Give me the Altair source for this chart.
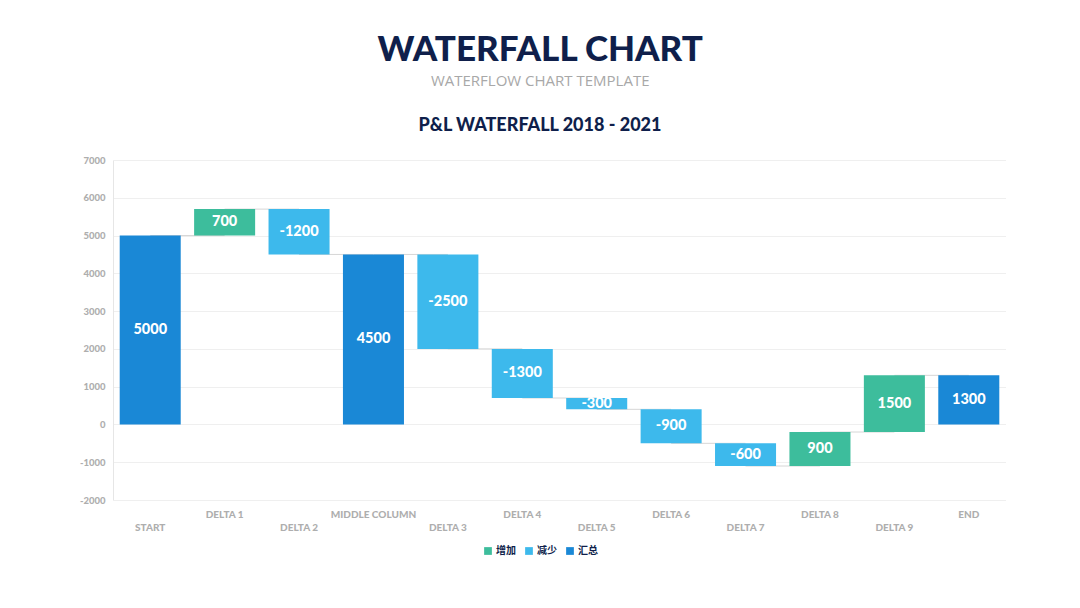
import altair as alt
import pandas as pd

categories = ["START", "DELTA 1", "DELTA 2", "MIDDLE COLUMN", "DELTA 3", "DELTA 4",
              "DELTA 5", "DELTA 6", "DELTA 7", "DELTA 8", "DELTA 9", "END"]
amounts = [5000, 700, -1200, 4500, -2500, -1300, -300, -900, -600, 900, 1500, 1300]
kinds = ["汇总", "增加", "减少", "汇总", "减少", "减少", "减少", "减少", "减少", "增加", "增加", "汇总"]
kind_order = ["增加", "减少", "汇总"]
kind_colors = ["#3dbd9c", "#3db9ec", "#1a88d6"]
y_ticks = [-2000, -1000, 0, 1000, 2000, 3000, 4000, 5000, 6000, 7000]

rows = []
level = 0
for i, (c, a, k) in enumerate(zip(categories, amounts, kinds)):
    if k == "汇总":
        start, end = 0, a
        level = a
    else:
        start, end = level, level + a
        level = end
    rows.append({
        "cat": c, "amount": a, "kind": k, "start": start, "end": end,
        "mid": (start + end) / 2, "label": str(a),
        "next": categories[i + 1] if i + 1 < len(categories) else None,
    })
df = pd.DataFrame(rows)
conn = df[df["next"].notna()]

FONT = "Lato"
NAVY = "#0f1f4b"
GRAY = "#aeaeae"
odd_cats = categories[1::2]
odd_list = "[" + ",".join("'" + c + "'" for c in odd_cats) + "]"

xscale = alt.Scale(paddingInner=0.18, paddingOuter=0.09)
xaxis = alt.Axis(title=None, labelAngle=0, ticks=False, tickSize=0, domain=False,
                 grid=False, labelFont=FONT, labelFontSize=10, labelFontWeight=900,
                 labelColor=GRAY,
                 labelPadding={"condition": {"test": f"indexof({odd_list}, datum.value) >= 0",
                                             "value": 9},
                               "value": 22})
yscale = alt.Scale(domain=[-2000, 7000], nice=False, zero=False)
yaxis = alt.Axis(title=None, values=y_ticks, ticks=False, domain=True, domainColor="#e6e6e6",
                 gridColor="#efefef", labelColor=GRAY, labelFont=FONT, labelFontSize=9.5,
                 labelFontWeight=900, labelPadding=8, labelOverlap=False,
                 labelExpr="datum.value + ''")

xenc = alt.X("cat:N", sort=categories, scale=xscale, axis=xaxis)

rules = alt.Chart(conn).mark_rule(color="#d6d6d6", strokeWidth=1).encode(
    x=xenc,
    x2="next:N",
    y=alt.Y("end:Q", scale=yscale, axis=yaxis),
)

bars = alt.Chart(df).mark_bar().encode(
    x=xenc,
    y=alt.Y("start:Q", scale=yscale, axis=yaxis),
    y2="end:Q",
    color=alt.Color("kind:N", scale=alt.Scale(domain=kind_order, range=kind_colors),
                    legend=alt.Legend(title=None, orient="none", legendX=370, legendY=386,
                                      direction="horizontal", symbolType="square",
                                      symbolSize=60, symbolStrokeWidth=0,
                                      labelFont="Noto Sans CJK SC", labelFontSize=10,
                                      labelFontWeight="bold", labelColor=NAVY,
                                      columnPadding=8, labelOffset=3)),
)

texts = alt.Chart(df).mark_text(color="white", font=FONT, fontWeight=900, fontSize=14.5).encode(
    x=xenc,
    y=alt.Y("mid:Q", scale=yscale, axis=yaxis),
    text="label:N",
)

inner = alt.layer(rules, bars, texts).properties(
    width=893, height=340,
    title=alt.TitleParams("P&L WATERFALL 2018 - 2021", font=FONT, fontSize=18, fontWeight=900,
                          color=NAVY, anchor="middle", dx=-19.5, offset=20),
)

chart = alt.vconcat(inner).properties(
    title=alt.TitleParams("WATERFALL CHART", subtitle="WATERFLOW CHART TEMPLATE",
                          font=FONT, fontSize=35, fontWeight=900, color=NAVY,
                          subtitleFont="Open Sans", subtitleFontSize=15, subtitleColor="#a8a8a8",
                          subtitlePadding=6, anchor="middle", dx=-2.5, offset=28),
    padding={"left": 79, "top": 33, "right": 0, "bottom": 0},
).configure_view(strokeWidth=0, stroke="transparent").configure_axis(labelOverlap=False)

chart.save("out.html", embed_options={"renderer": "svg", "actions": False})
